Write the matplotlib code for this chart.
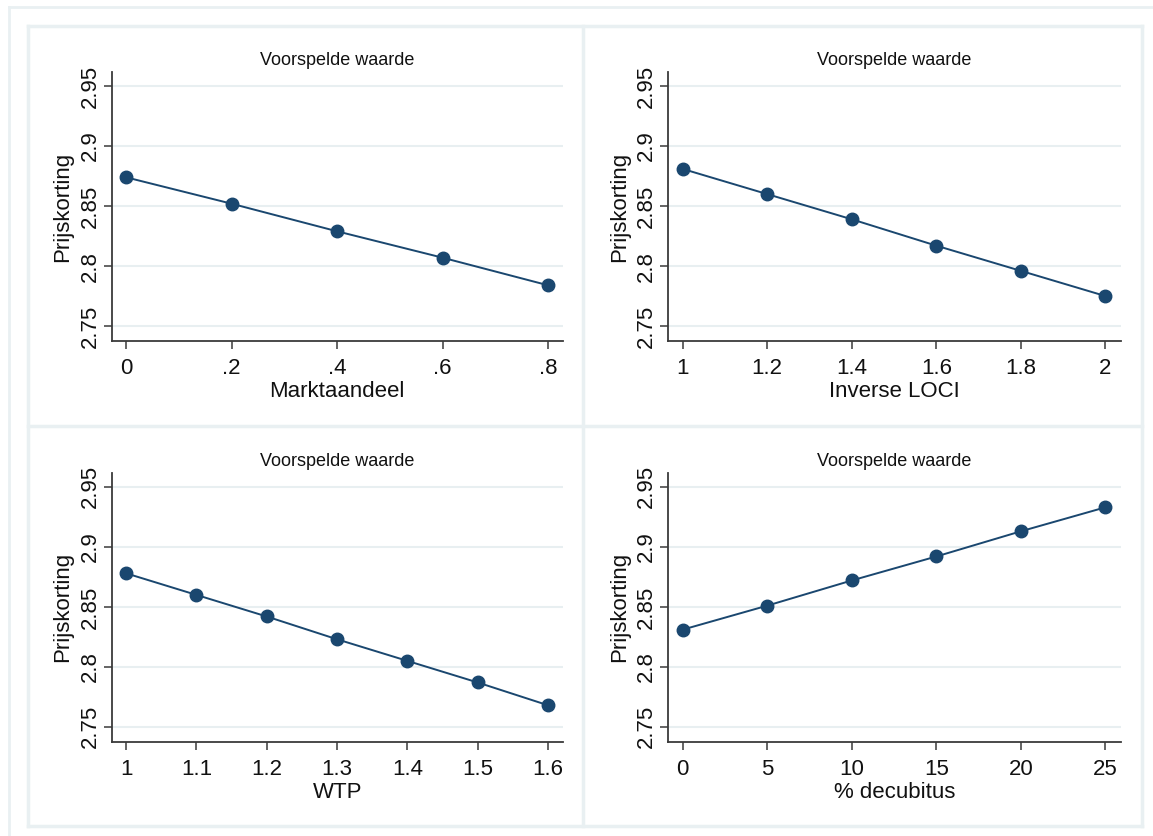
import matplotlib
matplotlib.use("Agg")
import matplotlib.pyplot as plt
from matplotlib.lines import Line2D

plt.rcParams['font.family'] = ['Liberation Sans', 'DejaVu Sans']

# ---- data -------------------------------------------------------------
marktaandeel = [0.0, 0.2, 0.4, 0.6, 0.8]
prijs_markt = [2.874, 2.852, 2.829, 2.807, 2.784]
markt_labels = ["0", ".2", ".4", ".6", ".8"]

inverse_loci = [1.0, 1.2, 1.4, 1.6, 1.8, 2.0]
prijs_loci = [2.881, 2.860, 2.839, 2.817, 2.796, 2.775]
loci_labels = ["1", "1.2", "1.4", "1.6", "1.8", "2"]

wtp = [1.0, 1.1, 1.2, 1.3, 1.4, 1.5, 1.6]
prijs_wtp = [2.878, 2.860, 2.842, 2.823, 2.805, 2.787, 2.768]
wtp_labels = ["1", "1.1", "1.2", "1.3", "1.4", "1.5", "1.6"]

decubitus = [0, 5, 10, 15, 20, 25]
prijs_decubitus = [2.831, 2.851, 2.872, 2.892, 2.913, 2.933]
decubitus_labels = ["0", "5", "10", "15", "20", "25"]

y_ticks = [2.75, 2.8, 2.85, 2.9, 2.95]
y_tick_labels = ["2.75", "2.8", "2.85", "2.9", "2.95"]

panel_title = "Voorspelde waarde"
y_label = "Prijskorting"

# ---- styling ----------------------------------------------------------
W, H = 1153, 836
NAVY = "#1a476f"
GRID = "#e8eff1"
FRAME = "#e9f0f2"
AXIS = "#3a3a3a"
TEXT = "#111111"


def fx(px):
    return px / W


def fy(py):
    return 1 - py / H


fig = plt.figure(figsize=(W / 100, H / 100), dpi=100, facecolor="white")

# outer frame (top and left edges) and panel boxes
frame_lines = [
    ((9, 1153), (7, 7), 2.0),
    ((9, 9), (7, 836), 2.0),
    ((28, 1142), (26, 26), 2.5),
    ((28, 1142), (426, 426), 2.5),
    ((28, 1142), (826, 826), 2.5),
    ((28, 28), (26, 826), 2.5),
    ((583.5, 583.5), (26, 826), 2.5),
    ((1142, 1142), (26, 826), 2.5),
]
for xs, ys, lw in frame_lines:
    fig.add_artist(Line2D([fx(x) for x in xs], [fy(y) for y in ys],
                          color=FRAME, lw=lw, zorder=0))

panels = [
    (marktaandeel, prijs_markt, markt_labels, "Marktaandeel", (111.5, 72.3, 563, 340.7)),
    (inverse_loci, prijs_loci, loci_labels, "Inverse LOCI", (668, 72.3, 1120.5, 340.7)),
    (wtp, prijs_wtp, wtp_labels, "WTP", (111.5, 473.1, 563, 741.5)),
    (decubitus, prijs_decubitus, decubitus_labels, "% decubitus", (668, 473.1, 1120.5, 741.5)),
]

for xs, ys, xlabels, xname, (l, t, r, b) in panels:
    ax = fig.add_axes([fx(l), fy(b), fx(r) - fx(l), fy(t) - fy(b)])
    ax.set_facecolor("white")
    ax.plot(xs, ys, color=NAVY, lw=1.4, marker="o", markersize=9,
            markerfacecolor=NAVY, markeredgecolor=NAVY, zorder=3,
            clip_on=False)

    span = xs[-1] - xs[0]
    ax.set_xlim(xs[0] - span * 14.5 / 422, xs[-1] + span * 15 / 422)
    ax.set_ylim(2.7378, 2.9615)

    ax.set_xticks(xs)
    ax.set_xticklabels(xlabels)
    ax.set_yticks(y_ticks)
    ax.set_yticklabels(y_tick_labels, rotation=90, va="center")

    ax.grid(axis="y", color=GRID, lw=1.5, zorder=0)
    ax.set_axisbelow(True)

    for side in ("top", "right"):
        ax.spines[side].set_visible(False)
    for side in ("left", "bottom"):
        ax.spines[side].set_color(AXIS)
        ax.spines[side].set_linewidth(1.3)

    ax.tick_params(axis="both", direction="out", length=5.8, width=1.1,
                   color=AXIS, labelcolor=TEXT, labelsize=16)
    ax.tick_params(axis="y", pad=2.0)
    ax.tick_params(axis="x", pad=6.5)

    ax.set_title(panel_title, fontsize=13, color=TEXT, pad=5)
    ax.set_xlabel(xname, fontsize=16, color=TEXT, labelpad=1.5)
    ax.set_ylabel(y_label, fontsize=16, color=TEXT, labelpad=4.5)

fig.savefig("out.png", dpi=100, facecolor="white")
